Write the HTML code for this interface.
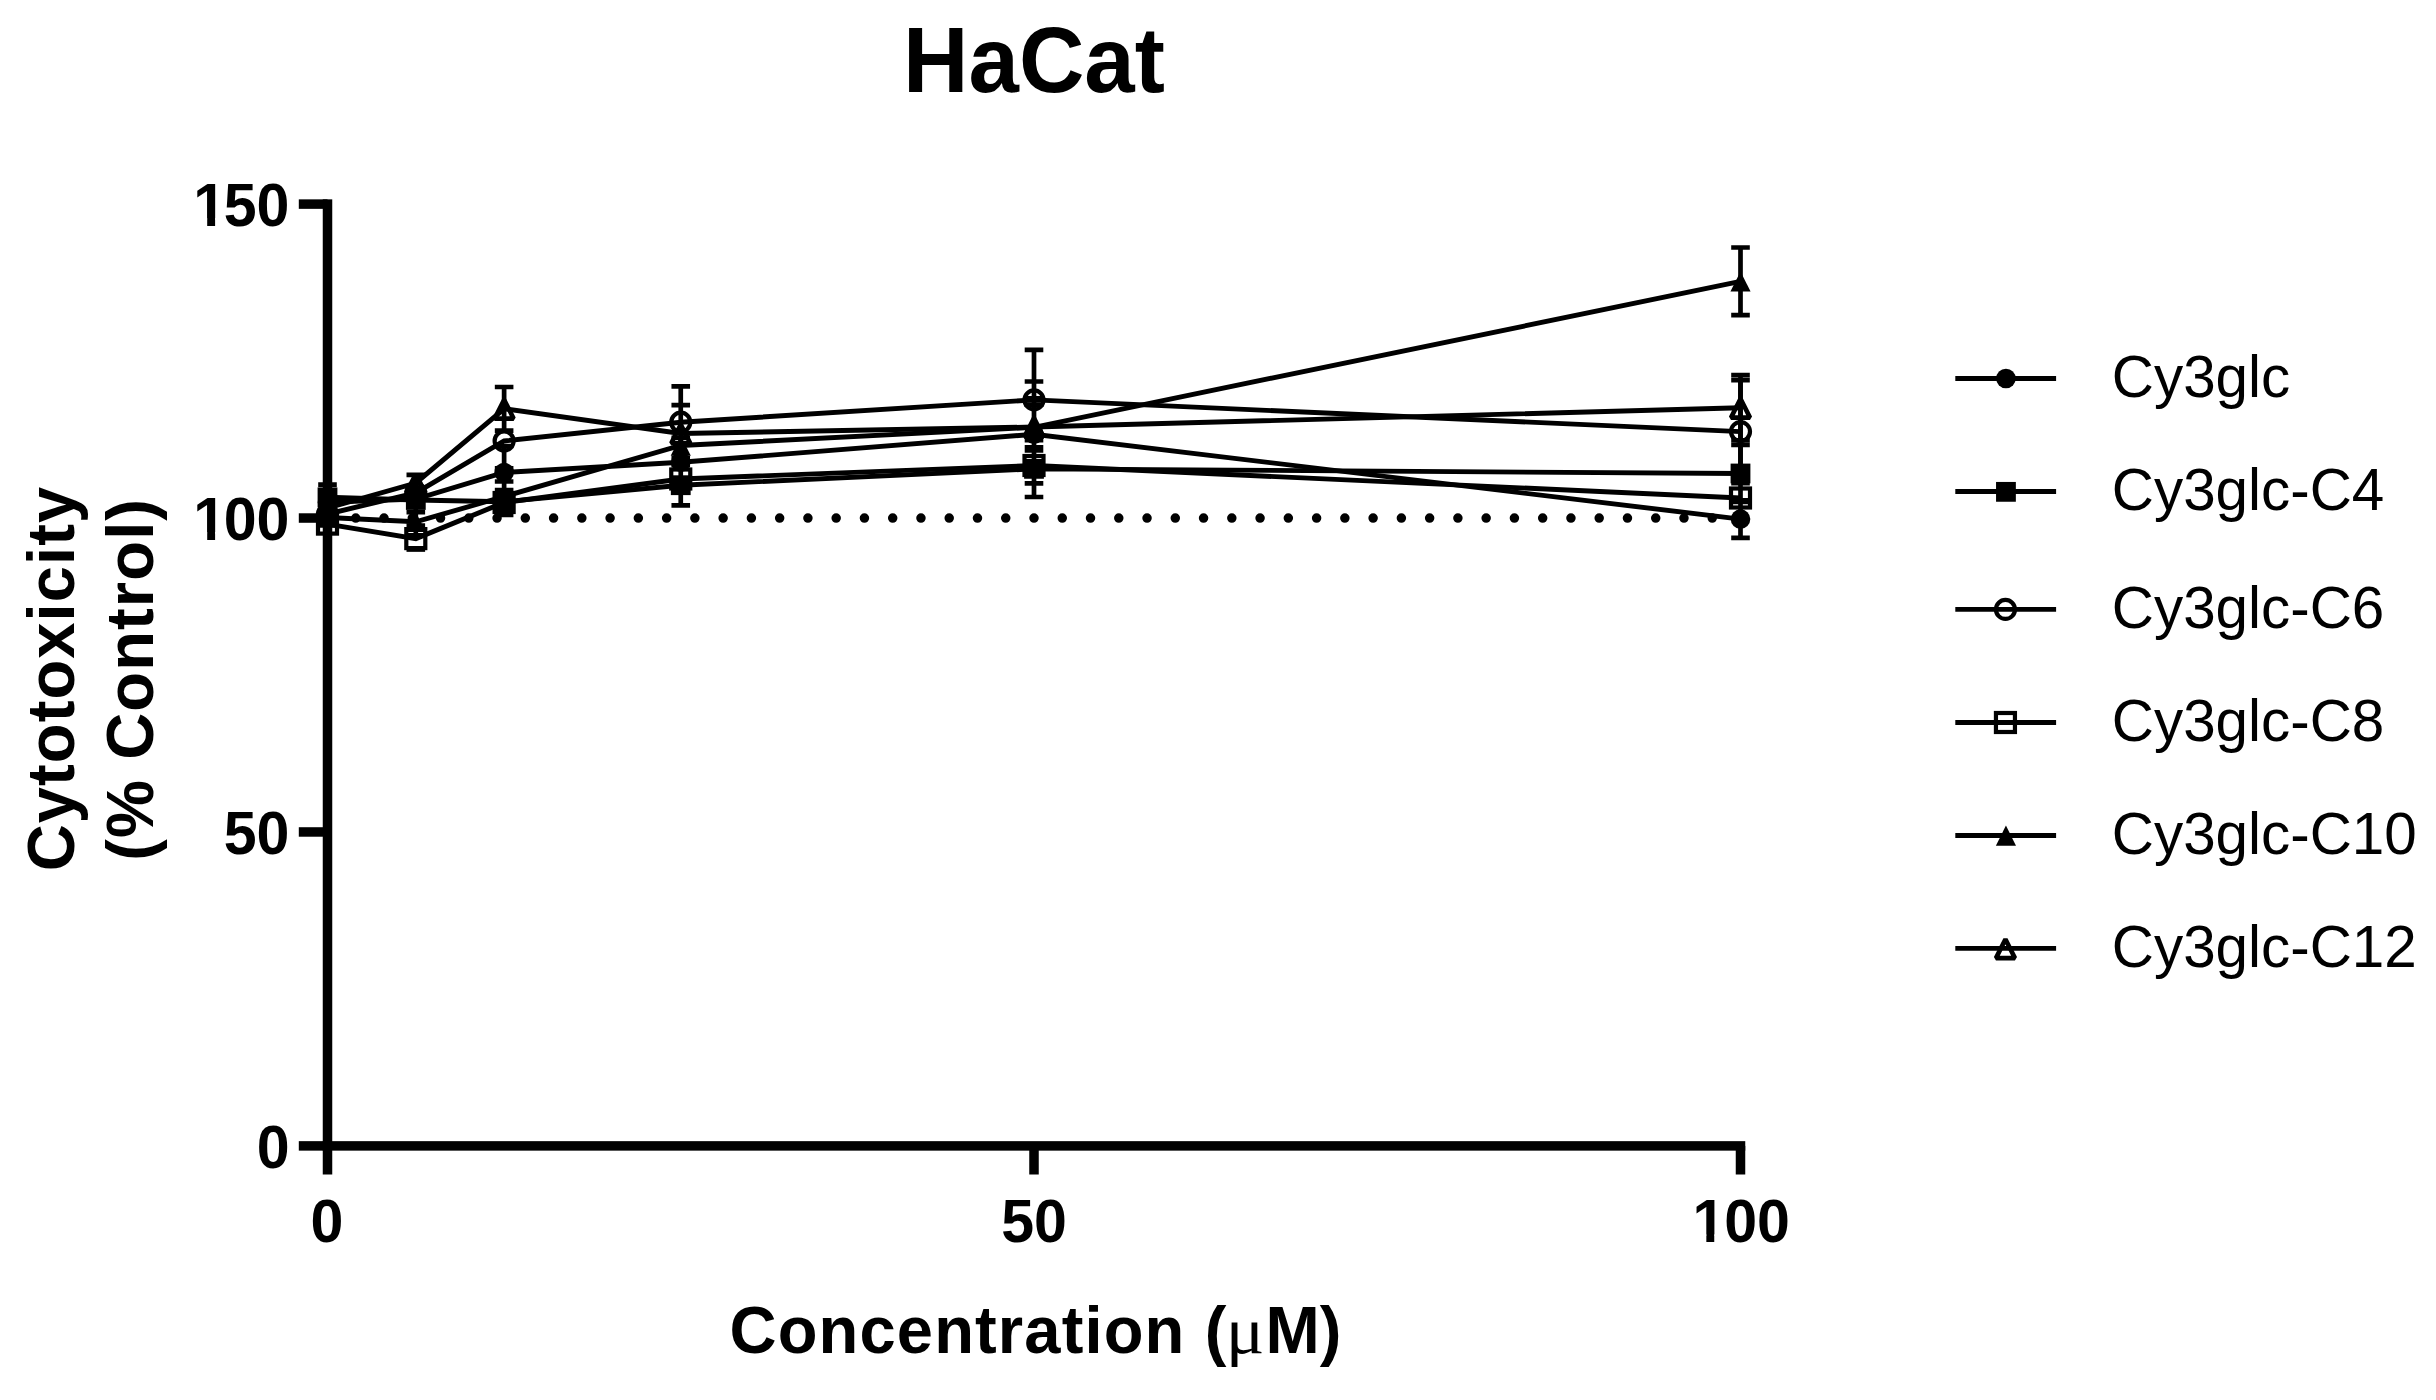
<!DOCTYPE html>
<html lang="en">
<head>
<meta charset="utf-8">
<title>HaCat</title>
<style>
html,body{margin:0;padding:0;background:#fff;}
body{width:2436px;height:1400px;overflow:hidden;position:relative;}
svg{position:absolute;left:0;top:0;display:block;}
text{font-family:"Liberation Sans",Arial,Helvetica,sans-serif;fill:#000;font-kerning:none;}
.tick{font-size:59.1px;font-weight:700;}
.ttl{font-size:90.6px;font-weight:700;}
.ax{font-size:65.1px;font-weight:700;letter-spacing:1.1px;}
.lg{font-size:58.4px;}
.mu{font-family:"Liberation Serif","DejaVu Serif",serif;font-weight:400;font-size:65.8px;}
</style>
</head>
<body>
<svg width="2436" height="1400" viewBox="0 0 2436 1400">
<rect x="0" y="0" width="2436" height="1400" fill="#fff"/>
<text class="ttl" transform="translate(1034.0 91.9) scale(1 1.02)" text-anchor="middle">HaCat</text>
<g fill="#000">
<rect x="322.75" y="199.35" width="9.5" height="975.15"/>
<rect x="322.75" y="1141.15" width="1422.50" height="9.5"/>
<rect x="298.8" y="1141.15" width="28.70" height="9.5"/>
<rect x="298.8" y="827.22" width="28.70" height="9.5"/>
<rect x="298.8" y="513.28" width="28.70" height="9.5"/>
<rect x="298.8" y="199.35" width="28.70" height="9.5"/>
<rect x="1029.25" y="1145.90" width="9.5" height="28.60"/>
<rect x="1735.75" y="1145.90" width="9.5" height="28.60"/>
</g>
<text class="tick" transform="translate(0 1167.7) scale(1 1.04)" x="256.63">0</text>
<text class="tick" transform="translate(0 853.8) scale(1 1.04)" x="223.76">50</text>
<text class="tick" transform="translate(0 539.8) scale(1 1.04)"><tspan x="193.29">1</tspan><tspan x="223.76">00</tspan></text>
<rect x="195.52" y="532.00" width="11.67" height="9.30" fill="#fff"/>
<rect x="215.10" y="532.00" width="10.42" height="9.30" fill="#fff"/>
<text class="tick" transform="translate(0 225.9) scale(1 1.04)"><tspan x="193.29">1</tspan><tspan x="223.76">50</tspan></text>
<rect x="195.52" y="218.10" width="11.67" height="9.30" fill="#fff"/>
<rect x="215.10" y="218.10" width="10.42" height="9.30" fill="#fff"/>
<text class="tick" transform="translate(0 1242.2) scale(1 1.04)" x="310.62">0</text>
<text class="tick" transform="translate(0 1242.2) scale(1 1.04)" x="1001.18">50</text>
<text class="tick" transform="translate(0 1242.2) scale(1 1.04)"><tspan x="1692.45">1</tspan><tspan x="1724.22">00</tspan></text>
<rect x="1694.67" y="1234.40" width="11.67" height="9.30" fill="#fff"/>
<rect x="1714.25" y="1234.40" width="10.42" height="9.30" fill="#fff"/>
<text class="ax" transform="translate(0 1353.0) scale(1 1.02)"><tspan x="729.5" style="letter-spacing:1.14px">Concentration (</tspan><tspan class="mu" x="1225.7" style="letter-spacing:0;font-size:64.51px" textLength="38.74" lengthAdjust="spacingAndGlyphs">μ</tspan><tspan x="1265.6" style="letter-spacing:0">M)</tspan></text>
<text class="ax" transform="translate(73.9 678.5) rotate(-90) scale(1 1.02)" text-anchor="middle">Cytotoxicity</text>
<text class="ax" transform="translate(153.1 679.3) rotate(-90) scale(1 1.02)" text-anchor="middle">(% Control)</text>
<line x1="327.50" y1="518.03" x2="1741.50" y2="518.03" stroke="#000" stroke-width="9.5" stroke-linecap="round" stroke-dasharray="0 28.26"/>
<g>
<polyline points="327.50,502.40 415.81,499.00 504.12,472.50 680.75,462.30 1034.00,434.30 1740.50,519.10" fill="none" stroke="#000" stroke-width="4.9" stroke-linejoin="miter"/>
<path d="M504.12 446.00V499.00M494.82 446.00H513.42M494.82 499.00H513.42" fill="none" stroke="#000" stroke-width="4.7"/>
<path d="M1740.50 500.40V537.80M1731.20 500.40H1749.80M1731.20 537.80H1749.80" fill="none" stroke="#000" stroke-width="4.7"/>
<circle cx="327.50" cy="502.40" r="9.8" fill="#000"/>
<circle cx="415.81" cy="499.00" r="9.8" fill="#000"/>
<circle cx="504.12" cy="472.50" r="9.8" fill="#000"/>
<circle cx="680.75" cy="462.30" r="9.8" fill="#000"/>
<circle cx="1034.00" cy="434.30" r="9.8" fill="#000"/>
<circle cx="1740.50" cy="519.10" r="9.8" fill="#000"/>
</g>
<g>
<polyline points="327.50,497.30 415.81,500.00 504.12,501.70 680.75,485.20 1034.00,468.85 1740.50,473.50" fill="none" stroke="#000" stroke-width="4.9" stroke-linejoin="miter"/>
<path d="M327.50 484.60V510.00M318.20 484.60H336.80M318.20 510.00H336.80" fill="none" stroke="#000" stroke-width="4.7"/>
<path d="M415.81 487.75V512.25M406.51 487.75H425.11M406.51 512.25H425.11" fill="none" stroke="#000" stroke-width="4.7"/>
<path d="M1740.50 445.00V502.00M1731.20 445.00H1749.80M1731.20 502.00H1749.80" fill="none" stroke="#000" stroke-width="4.7"/>
<rect x="317.60" y="487.40" width="19.80" height="19.80" fill="#000"/>
<rect x="405.91" y="490.10" width="19.80" height="19.80" fill="#000"/>
<rect x="494.23" y="491.80" width="19.80" height="19.80" fill="#000"/>
<rect x="670.85" y="475.30" width="19.80" height="19.80" fill="#000"/>
<rect x="1024.10" y="458.95" width="19.80" height="19.80" fill="#000"/>
<rect x="1730.60" y="463.60" width="19.80" height="19.80" fill="#000"/>
</g>
<g>
<polyline points="327.50,514.00 415.81,492.90 504.12,441.00 680.75,422.20 1034.00,399.90 1740.50,431.60" fill="none" stroke="#000" stroke-width="4.9" stroke-linejoin="miter"/>
<path d="M1740.50 380.10V483.10M1731.20 380.10H1749.80M1731.20 483.10H1749.80" fill="none" stroke="#000" stroke-width="4.7"/>
<circle cx="327.50" cy="514.00" r="9.50" fill="none" stroke="#000" stroke-width="4.2"/>
<circle cx="415.81" cy="492.90" r="9.50" fill="none" stroke="#000" stroke-width="4.2"/>
<circle cx="504.12" cy="441.00" r="9.50" fill="none" stroke="#000" stroke-width="4.2"/>
<circle cx="680.75" cy="422.20" r="9.50" fill="none" stroke="#000" stroke-width="4.2"/>
<circle cx="1034.00" cy="399.90" r="9.50" fill="none" stroke="#000" stroke-width="4.2"/>
<circle cx="1740.50" cy="431.60" r="9.50" fill="none" stroke="#000" stroke-width="4.2"/>
</g>
<g>
<polyline points="327.50,524.10 415.81,538.60 504.12,502.50 680.75,479.00 1034.00,465.50 1740.50,498.00" fill="none" stroke="#000" stroke-width="4.9" stroke-linejoin="miter"/>
<path d="M504.12 490.20V514.80M494.82 490.20H513.42M494.82 514.80H513.42" fill="none" stroke="#000" stroke-width="4.7"/>
<rect x="318.00" y="514.60" width="19.00" height="19.00" fill="none" stroke="#000" stroke-width="4.2"/>
<rect x="406.31" y="529.10" width="19.00" height="19.00" fill="none" stroke="#000" stroke-width="4.2"/>
<rect x="494.62" y="493.00" width="19.00" height="19.00" fill="none" stroke="#000" stroke-width="4.2"/>
<rect x="671.25" y="469.50" width="19.00" height="19.00" fill="none" stroke="#000" stroke-width="4.2"/>
<rect x="1024.50" y="456.00" width="19.00" height="19.00" fill="none" stroke="#000" stroke-width="4.2"/>
<rect x="1731.00" y="488.50" width="19.00" height="19.00" fill="none" stroke="#000" stroke-width="4.2"/>
</g>
<g>
<polyline points="327.50,517.50 415.81,521.80 504.12,496.50 680.75,445.50 1034.00,427.30 1740.50,281.30" fill="none" stroke="#000" stroke-width="4.9" stroke-linejoin="miter"/>
<path d="M1740.50 247.50V315.10M1731.20 247.50H1749.80M1731.20 315.10H1749.80" fill="none" stroke="#000" stroke-width="4.7"/>
<path d="M327.50 507.60L337.55 527.80L317.45 527.80Z" fill="#000"/>
<path d="M415.81 511.90L425.86 532.10L405.76 532.10Z" fill="#000"/>
<path d="M504.12 486.60L514.17 506.80L494.07 506.80Z" fill="#000"/>
<path d="M680.75 435.60L690.80 455.80L670.70 455.80Z" fill="#000"/>
<path d="M1034.00 417.40L1044.05 437.60L1023.95 437.60Z" fill="#000"/>
<path d="M1740.50 271.40L1750.55 291.60L1730.45 291.60Z" fill="#000"/>
</g>
<g>
<polyline points="327.50,508.00 415.81,483.00 504.12,408.80 680.75,433.50 1034.00,427.00 1740.50,407.80" fill="none" stroke="#000" stroke-width="4.9" stroke-linejoin="miter"/>
<path d="M415.81 474.80V491.20M406.51 474.80H425.11M406.51 491.20H425.11" fill="none" stroke="#000" stroke-width="4.7"/>
<path d="M504.12 387.00V430.60M494.82 387.00H513.42M494.82 430.60H513.42" fill="none" stroke="#000" stroke-width="4.7"/>
<path d="M1740.50 375.20V440.40M1731.20 375.20H1749.80M1731.20 440.40H1749.80" fill="none" stroke="#000" stroke-width="4.7"/>
<path d="M327.50 498.95L337.00 517.80L318.00 517.80Z" fill="none" stroke="#000" stroke-width="4.6" stroke-linejoin="bevel"/>
<path d="M415.81 473.95L425.31 492.80L406.31 492.80Z" fill="none" stroke="#000" stroke-width="4.6" stroke-linejoin="bevel"/>
<path d="M504.12 399.75L513.62 418.60L494.62 418.60Z" fill="none" stroke="#000" stroke-width="4.6" stroke-linejoin="bevel"/>
<path d="M680.75 424.45L690.25 443.30L671.25 443.30Z" fill="none" stroke="#000" stroke-width="4.6" stroke-linejoin="bevel"/>
<path d="M1034.00 417.95L1043.50 436.80L1024.50 436.80Z" fill="none" stroke="#000" stroke-width="4.6" stroke-linejoin="bevel"/>
<path d="M1740.50 398.75L1750.00 417.60L1731.00 417.60Z" fill="none" stroke="#000" stroke-width="4.6" stroke-linejoin="bevel"/>
</g>
<path d="M504.12 468.30V481.50M494.82 468.30H513.42M494.82 481.50H513.42" fill="none" stroke="#000" stroke-width="4.7"/>
<path d="M415.81 512.00V538.60M406.51 525.50H425.11M406.51 535.35H425.11" fill="none" stroke="#000" stroke-width="4.7"/>
<path d="M406.51 549.50H425.11" fill="none" stroke="#000" stroke-width="4.7"/>
<path d="M680.75 386.40V505.30M671.45 386.40H690.05M671.45 405.10H690.05M671.45 437.95H690.05M671.45 458.00H690.05M671.45 462.00H690.05M671.45 465.10H690.05M671.45 505.30H690.05" fill="none" stroke="#000" stroke-width="4.7"/>
<path d="M1034.00 349.90V497.00M1024.70 349.90H1043.30M1024.70 381.50H1043.30M1024.70 398.25H1043.30M1024.70 404.70H1043.30M1024.70 440.25H1043.30M1024.70 447.35H1043.30M1024.70 450.50H1043.30M1024.70 483.30H1043.30M1024.70 497.00H1043.30" fill="none" stroke="#000" stroke-width="4.7"/>
<line x1="1955.3" y1="378.5" x2="2056.1" y2="378.5" stroke="#000" stroke-width="4.9"/>
<circle cx="2005.95" cy="378.50" r="9.8" fill="#000"/>
<text class="lg" transform="translate(2111.8 397.1) scale(1 1.03)">Cy3glc</text>
<line x1="1955.3" y1="491.5" x2="2056.1" y2="491.5" stroke="#000" stroke-width="4.9"/>
<rect x="1996.05" y="481.95" width="19.80" height="19.80" fill="#000"/>
<text class="lg" transform="translate(2111.8 510.1) scale(1 1.03)">Cy3glc-C4</text>
<line x1="1955.3" y1="609.4" x2="2056.1" y2="609.4" stroke="#000" stroke-width="4.9"/>
<circle cx="2005.45" cy="609.40" r="9.50" fill="none" stroke="#000" stroke-width="4.2"/>
<text class="lg" transform="translate(2111.8 628.0) scale(1 1.03)">Cy3glc-C6</text>
<line x1="1955.3" y1="722.5" x2="2056.1" y2="722.5" stroke="#000" stroke-width="4.9"/>
<rect x="1995.95" y="713.00" width="19.00" height="19.00" fill="none" stroke="#000" stroke-width="4.2"/>
<text class="lg" transform="translate(2111.8 741.1) scale(1 1.03)">Cy3glc-C8</text>
<line x1="1955.3" y1="835.5" x2="2056.1" y2="835.5" stroke="#000" stroke-width="4.9"/>
<path d="M2005.95 825.60L2016.00 845.80L1995.90 845.80Z" fill="#000"/>
<text class="lg" transform="translate(2111.8 854.1) scale(1 1.03)">Cy3glc-C10</text>
<line x1="1955.3" y1="948.35" x2="2056.1" y2="948.35" stroke="#000" stroke-width="4.9"/>
<path d="M2005.45 939.30L2014.95 958.15L1995.95 958.15Z" fill="none" stroke="#000" stroke-width="4.6" stroke-linejoin="bevel"/>
<text class="lg" transform="translate(2111.8 967.0) scale(1 1.03)">Cy3glc-C12</text>
</svg>
</body>
</html>
